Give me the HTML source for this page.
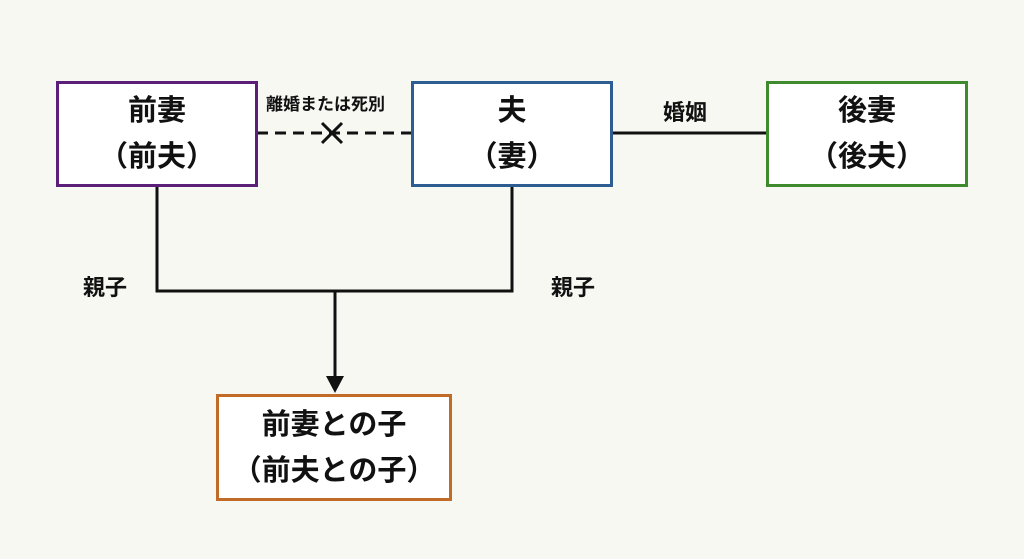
<!DOCTYPE html>
<html><head><meta charset="utf-8"><style>
body{margin:0;width:1024px;height:559px;background:#f8f8f3;overflow:hidden;position:relative;font-family:"Liberation Sans","Noto Sans CJK JP",sans-serif;font-weight:bold;color:#111}
.b{position:absolute;box-sizing:border-box;border:3px solid;background:#fff;display:flex;flex-direction:column;align-items:center;justify-content:center;font-size:29px;line-height:46px}
.t{position:absolute;font-size:22px}
</style></head><body>
<svg width="1024" height="559" style="position:absolute;left:0;top:0">
<g stroke="#111" stroke-width="3" fill="none">
<line x1="257" y1="133" x2="412" y2="133" stroke-dasharray="11,7"/>
<line x1="612" y1="133" x2="767" y2="133"/>
<line x1="157" y1="186" x2="157" y2="291"/>
<line x1="512" y1="186" x2="512" y2="291"/>
<line x1="155.5" y1="291" x2="513.5" y2="291"/>
<line x1="335" y1="291" x2="335" y2="378"/>
<line x1="322" y1="123" x2="342" y2="143"/>
<line x1="342" y1="123" x2="322" y2="143"/>
</g>
<polygon points="326,376 344,376 335,393" fill="#111"/>
</svg>
<div class="b" style="left:56px;top:81px;width:202px;height:106px;border-color:#5b1f7a"><div>前妻</div><div>（前夫）</div></div>
<div class="b" style="left:411px;top:81px;width:202px;height:106px;border-color:#2d5d93"><div>夫</div><div>（妻）</div></div>
<div class="b" style="left:766px;top:81px;width:202px;height:106px;border-color:#3f8a2c"><div>後妻</div><div>（後夫）</div></div>
<div class="b" style="left:216px;top:394px;width:236px;height:107px;border-color:#c06b28"><div>前妻との子</div><div>（前夫との子）</div></div>
<div class="t" style="left:266px;top:90px;font-size:17px">離婚または死別</div>
<div class="t" style="left:663px;top:95px">婚姻</div>
<div class="t" style="left:83px;top:270px">親子</div>
<div class="t" style="left:551px;top:270px">親子</div>
</body></html>
